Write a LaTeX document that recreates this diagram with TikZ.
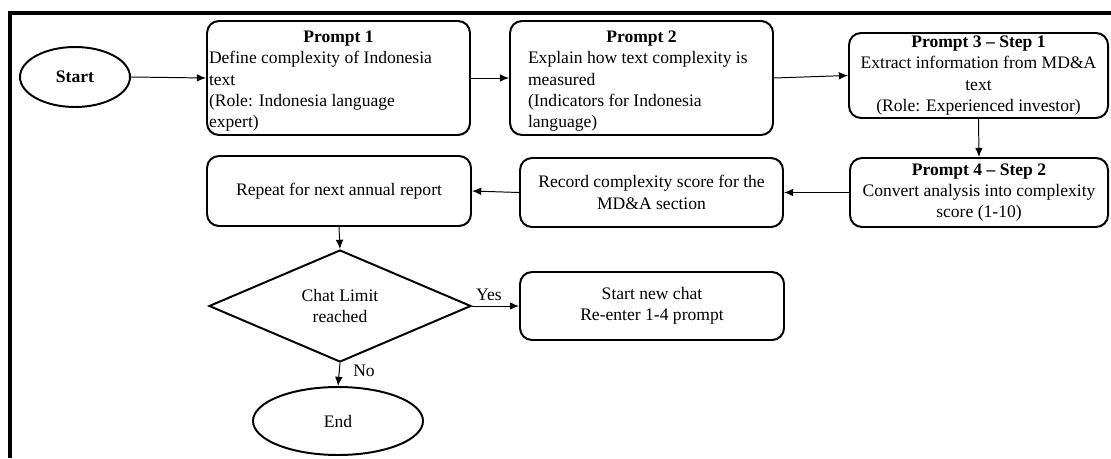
\documentclass[tikz,border=0pt]{standalone}
\usepackage{fontspec}
\setmainfont{Liberation Serif}
\usetikzlibrary{shapes.geometric,arrows.meta}

\begin{document}
\begin{tikzpicture}[
  font=\fontsize{12.5}{15.1}\selectfont,
  box/.style={draw, line width=1.4pt, rounded corners=0.3cm, align=center, inner sep=0pt},
  oval/.style={draw, line width=1.4pt, ellipse, inner sep=0pt},
  arr/.style={->, >={Latex[length=2.3mm,width=1.9mm]}, line width=0.7pt},
]

\useasboundingbox (0,0) rectangle (27.775,11.45);

%\draw(0,0) grid (27,11);

% frame
\draw[line width=0.1cm] (0.25,0) -- (0.25,11.13) -- (27.9,11.13);


% first row
\node[oval, minimum width=2.75cm, minimum height=1.5cm] (start) at (1.875,9.525) {\textbf{Start}};

\node[box, minimum width=6.575cm, minimum height=2.85cm] (p1) at (8.4625,9.5)
  {\parbox[c][2.35cm][t]{6.475cm}{\centering\textbf{Prompt 1}\par\raggedright
   Define complexity of Indonesia\\ text\\ (Role: Indonesia language\\ expert)}};

\node[box, minimum width=6.575cm, minimum height=2.85cm] (p2) at (16.0375,9.5)
  {\parbox[c][2.35cm][t]{5.675cm}{\centering\textbf{Prompt 2}\par\raggedright
   Explain how text complexity is\\ measured\\ (Indicators for Indonesia\\ language)}};

\node[box, minimum width=6.475cm, minimum height=2.125cm] (p3) at (24.4625,9.5625)
  {\textbf{Prompt 3 -- Step 1}\\ Extract information from MD\&A\\ text\\ (Role: Experienced investor)};


% second row
\node[box, minimum width=6.45cm, minimum height=1.725cm] (p4) at (24.475,6.6375)
  {\textbf{Prompt 4 -- Step 2}\\ Convert analysis into complexity\\ score (1-10)};

\node[box, minimum width=6.575cm, minimum height=1.725cm] (rec) at (16.2875,6.6375)
  {Record complexity score for the\\ MD\&A section};

\node[box, minimum width=6.6cm, minimum height=1.75cm] (rep) at (8.475,6.675)
  {Repeat for next annual report};


% decision
\node[draw, line width=1.4pt, diamond, align=center, inner sep=0pt,
      minimum width=6.55cm, minimum height=2.8cm] (chat) at (8.5,3.8) {Chat Limit\\ reached};

\node[box, minimum width=6.6cm, minimum height=1.7cm] (new) at (16.3,3.8)
  {Start new chat\\ Re-enter 1-4 prompt};

\node[oval, minimum width=4.25cm, minimum height=1.7cm] (end) at (8.45,0.925) {End};


% arrows
\draw[arr] (start.east) -- (p1.west);
\draw[arr] (p1.east) -- (p2.west);
\draw[arr] (p2.east) -- (p3.west);
\draw[arr] (p3.south) -- (p4.north);
\draw[arr] (p4.west) -- (rec.east);
\draw[arr] (rec.west) -- (rep.east);
\draw[arr] (rep.south) -- (chat.north);
\draw[arr] (chat.east) -- node[above, pos=0.36]{Yes} (new.west);
\draw[arr] (chat.south) -- node[right, pos=0.36, xshift=0.22cm]{No} (end.north);

\end{tikzpicture}
\end{document}
